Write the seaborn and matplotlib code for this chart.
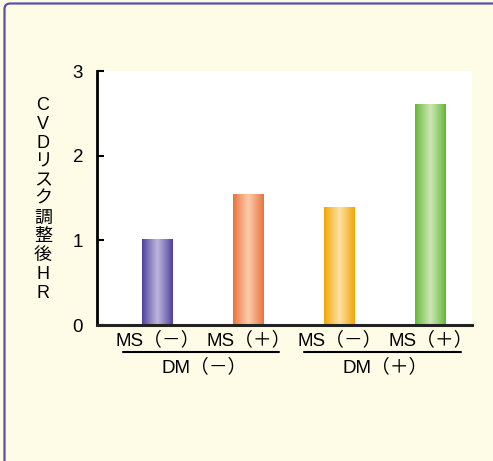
import numpy as np
import pandas as pd
import matplotlib
matplotlib.use("Agg")
import matplotlib.pyplot as plt
import matplotlib.transforms as mtransforms
from matplotlib.colors import LinearSegmentedColormap
from matplotlib.patches import FancyBboxPatch
import seaborn as sns

# Data
categories = ["MS（－）", "MS（＋）", "MS（－） ", "MS（＋） "]
hr_values = [1.02, 1.55, 1.39, 2.61]
groups = ["DM（－）", "DM（＋）"]
ylabel_chars = ["C", "V", "D", "リ", "ス", "ク", "調", "整", "後", "H", "R"]

# Bar colours: edge tone and highlight tone for a cylindrical shading
edge_colors = ["#4a3f9c", "#ec7038", "#f3a300", "#62b634"]
mid_colors = ["#bdb5dc", "#facbaa", "#fde0a2", "#cde5b4"]

sns.set_theme(style="white")
plt.rcParams["font.family"] = ["Liberation Sans", "Noto Sans CJK JP", "DejaVu Sans"]

BG = "#fefce6"
fig = plt.figure(figsize=(4.93, 4.61), dpi=100, facecolor=BG)

# Rounded frame around the panel (runs off the right and bottom edges)
frame = FancyBboxPatch((4.5 / 493, -0.5), 1.2, 1.5 - 3.5 / 461,
                       boxstyle="round,pad=0,rounding_size=0.012",
                       transform=fig.transFigure, facecolor="none",
                       edgecolor="#5a50aa", linewidth=1.6, zorder=0)
fig.patches.append(frame)

ax = fig.add_axes([97 / 493, 1 - 325 / 461, 375 / 493, 254 / 461])
ax.set_facecolor("white")

df = pd.DataFrame({"cat": categories, "hr": hr_values})
sns.barplot(data=df, x="cat", y="hr", ax=ax, width=0.34,
            color="white", edgecolor="none", linewidth=0, zorder=2)

# Shade each bar with a horizontal gradient (edge -> highlight -> edge)
profile = np.concatenate([np.linspace(0, 1, 128) ** 0.9, np.linspace(1, 0, 128) ** 0.9])
for patch, c_edge, c_mid in zip(ax.patches, edge_colors, mid_colors):
    cmap = LinearSegmentedColormap.from_list("bar", [c_edge, c_mid])
    x0, y0 = patch.get_x(), patch.get_y()
    w, h = patch.get_width(), patch.get_height()
    im = ax.imshow(profile[np.newaxis, :], cmap=cmap, aspect="auto",
                   extent=[x0, x0 + w, y0, y0 + h], zorder=3, vmin=0, vmax=1)
    im.set_clip_path(patch)
    patch.set_facecolor("none")

ax.set_xlim(-0.665, 3.456)
ax.set_ylim(0, 3)
ax.set_yticks([0, 1, 2, 3])

# Spines and ticks
for s in ["top", "right"]:
    ax.spines[s].set_visible(False)
ax.spines["left"].set_color("black")
ax.spines["left"].set_linewidth(2.0)
ax.spines["bottom"].set_color("#222222")
ax.spines["bottom"].set_linewidth(2.2)
ax.spines["bottom"].set_zorder(5)
ax.tick_params(axis="y", direction="in", length=5, width=1.5, color="black",
               labelsize=13.5, labelcolor="black", pad=10, left=True)
ax.tick_params(axis="x", length=0, labelsize=13.5, labelcolor="black", pad=4.5)
ax.set_xlabel("")
ax.set_ylabel("")
ax.set_xticks(range(len(categories)))
ax.set_xticklabels([c.strip() for c in categories])

# Group underline and group labels below the category labels
trans = mtransforms.blended_transform_factory(ax.transData, ax.transAxes)
underline_y = -(352 - 325) / 254
group_y = -(367 - 325) / 254
for (xa, xb), g in zip([(-0.38, 1.335), (1.61, 3.34)], groups):
    ax.plot([xa, xb], [underline_y, underline_y], transform=trans,
            color="black", linewidth=1.5, clip_on=False)
    ax.text((xa + xb) / 2 + 0.03, group_y, g, transform=trans, ha="center",
            va="center", fontsize=13.5, color="black")

# Vertical y-axis title, one character per row
for i, ch in enumerate(ylabel_chars):
    fig.text(43 / 493, 1 - (106 + i * 18.7) / 461, ch, ha="center",
             va="center", fontsize=13, color="black")

fig.savefig("out.png", dpi=100, facecolor=BG)
